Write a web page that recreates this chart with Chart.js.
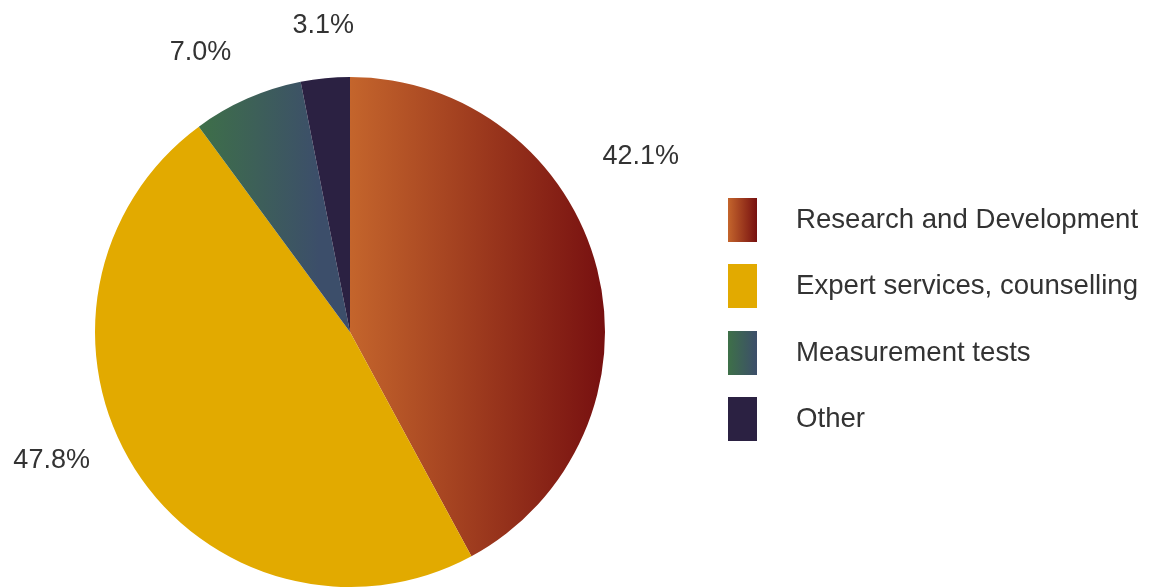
<!DOCTYPE html>
<html>
<head>
<meta charset="utf-8">
<script src="https://cdn.jsdelivr.net/npm/chart.js@4.4.1/dist/chart.umd.min.js"></script>
<style>
  body { margin: 0; background: #fff; font-family: "Liberation Sans", Arial, sans-serif; }
  #wrap { position: relative; width: 1149px; height: 587px; overflow: hidden; }
  #legend { position: absolute; left: 728px; top: 198px; }
  .item { position: relative; height: 66.4px; }
  .sw { position: absolute; left: 0; top: 0; width: 29px; height: 44px; }
  .txt { position: absolute; left: 68px; top: 5px; font-size: 27.6px; line-height: 32px; color: #333; white-space: nowrap; }
</style>
</head>
<body>
<div id="wrap">
  <canvas id="pieChart" width="1149" height="587"></canvas>
  <div id="legend"></div>
</div>
<script>
var labels = ['Research and Development', 'Expert services, counselling', 'Measurement tests', 'Other'];
var shares = [42.1, 47.8, 7.0, 3.1];

// slice colours: [from, to] of a left-to-right gradient
var sliceColors = [
  ['#c4652c', '#771010'],
  ['#e2aa00', '#e2aa00'],
  ['#3e7048', '#3c4e6a'],
  ['#2b2142', '#2b2142']
];

// where the percentage labels sit, relative to slice middle
var labelAngleShift = [-17, 9.3, -4.3, 0.6];
var labelRadius = [1.333, 1.272, 1.247, 1.209];

function sliceFill(ctx) {
  var chart = ctx.chart;
  var area = chart.chartArea;
  var c = sliceColors[ctx.dataIndex];
  if (!area || c[0] === c[1]) return c[0];
  var cx = (area.left + area.right) / 2;
  var r = Math.min(area.right - area.left, area.bottom - area.top) / 2;
  var g;
  if (ctx.dataIndex === 0) {
    g = chart.ctx.createLinearGradient(cx, 0, cx + r, 0);
  } else {
    g = chart.ctx.createLinearGradient(cx - r * 0.6, 0, cx - r * 0.12, 0);
  }
  g.addColorStop(0, c[0]);
  g.addColorStop(1, c[1]);
  return g;
}

var pctLabels = {
  id: 'pctLabels',
  afterDatasetsDraw: function(chart) {
    var ctx = chart.ctx;
    var meta = chart.getDatasetMeta(0);
    ctx.save();
    ctx.font = '27px "Liberation Sans", Arial, sans-serif';
    ctx.fillStyle = '#333';
    ctx.textAlign = 'center';
    ctx.textBaseline = 'middle';
    meta.data.forEach(function(arc, i) {
      var mid = (arc.startAngle + arc.endAngle) / 2 + labelAngleShift[i] * Math.PI / 180;
      var rr = arc.outerRadius * labelRadius[i];
      ctx.fillText(shares[i].toFixed(1) + '%', arc.x + Math.cos(mid) * rr, arc.y + Math.sin(mid) * rr + 1);
    });
    ctx.restore();
  }
};

var ctxP = document.getElementById('pieChart').getContext('2d');
var myPieChart = new Chart(ctxP, {
  type: 'pie',
  data: {
    labels: labels,
    datasets: [{
      data: shares,
      backgroundColor: sliceFill,
      hoverBackgroundColor: sliceFill,
      borderWidth: 0
    }]
  },
  options: {
    responsive: false,
    animation: false,
    layout: { padding: { left: 95, top: 77, right: 544, bottom: 0 } },
    plugins: {
      legend: { display: false },
      tooltip: { enabled: false }
    }
  },
  plugins: [pctLabels]
});

var legend = document.getElementById('legend');
labels.forEach(function(name, i) {
  var item = document.createElement('div');
  item.className = 'item';
  var sw = document.createElement('div');
  sw.className = 'sw';
  sw.style.background = 'linear-gradient(to right, ' + sliceColors[i][0] + ', ' + sliceColors[i][1] + ')';
  var t = document.createElement('div');
  t.className = 'txt';
  t.textContent = name;
  item.appendChild(sw);
  item.appendChild(t);
  legend.appendChild(item);
});
</script>
</body>
</html>
